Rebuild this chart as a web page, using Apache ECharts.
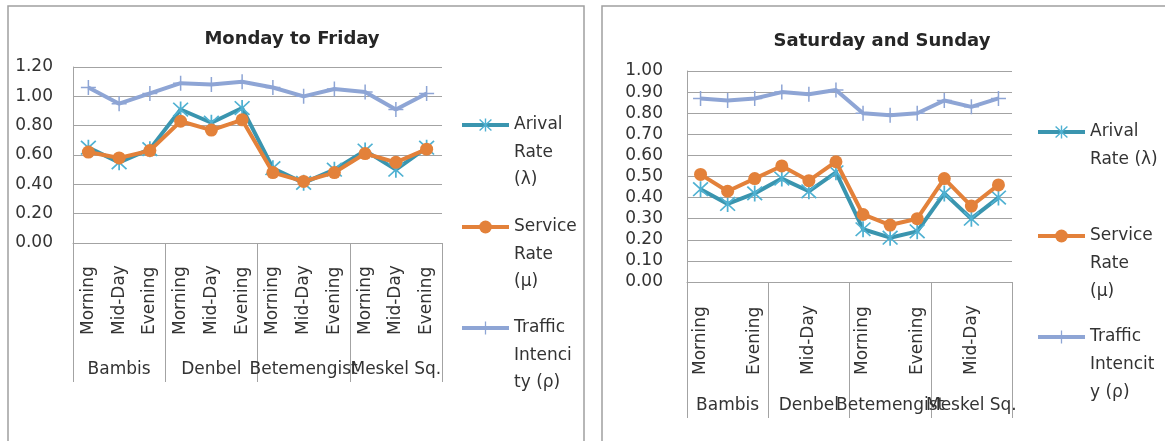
<!DOCTYPE html>
<html>
<head>
<meta charset="utf-8">
<script src="https://cdn.jsdelivr.net/npm/echarts@6/dist/echarts.min.js"></script>
<style>
  html, body { margin: 0; padding: 0; background: #fff; }
  #chart { width: 1165px; height: 441px; }
</style>
</head>
<body>
<div id="chart"></div>
<script>
// Junctions and time-of-day periods
const sites = ['Bambis', 'Denbel', 'Betemengist', 'Meskel Sq.'];
const periods = ['Morning', 'Mid-Day', 'Evening', 'Morning', 'Mid-Day', 'Evening',
                 'Morning', 'Mid-Day', 'Evening', 'Morning', 'Mid-Day', 'Evening'];

// Monday to Friday
const arrivalWeekday = [0.65, 0.55, 0.64, 0.91, 0.82, 0.92, 0.51, 0.41, 0.50, 0.63, 0.50, 0.65];
const serviceWeekday = [0.62, 0.58, 0.63, 0.83, 0.77, 0.84, 0.48, 0.42, 0.48, 0.61, 0.55, 0.64];
const trafficWeekday = [1.06, 0.95, 1.02, 1.09, 1.08, 1.10, 1.06, 1.00, 1.05, 1.03, 0.91, 1.02];

// Saturday and Sunday
const arrivalWeekend = [0.44, 0.37, 0.42, 0.49, 0.43, 0.52, 0.25, 0.21, 0.24, 0.42, 0.30, 0.40];
const serviceWeekend = [0.51, 0.43, 0.49, 0.55, 0.48, 0.57, 0.32, 0.27, 0.30, 0.49, 0.36, 0.46];
const trafficWeekend = [0.87, 0.86, 0.87, 0.90, 0.89, 0.91, 0.80, 0.79, 0.80, 0.86, 0.83, 0.87];

const seriesNames = ['Arival Rate (λ)', 'Service Rate (μ)', 'Traffic Intencity (ρ)'];
const legendWeekday = ['Arival\nRate\n(λ)', 'Service\nRate\n(μ)', 'Traffic\nIntenci\nty (ρ)'];
const legendWeekend = ['Arival\nRate (λ)', 'Service\nRate\n(μ)', 'Traffic\nIntencit\ny (ρ)'];

const FONT = 'DejaVu Sans';
const TEXT = '#333333';
const RULE = '#a3a3a3';

// Excel-like marker shapes
const STAR = 'path://M9,0L11,0L11,20L9,20Z M2.2,0.8L19.2,17.8L17.8,19.2L0.8,2.2Z M17.8,0.8L19.2,2.2L2.2,19.2L0.8,17.8Z';
const PLUS = 'path://M9,0L11,0L11,9L20,9L20,11L11,11L11,20L9,20L9,11L0,11L0,9L9,9Z';

const styles = [
  { line: '#3A95AF', mark: '#4FB1D2', symbol: STAR, size: 16 },
  { line: '#E3813A', mark: '#E3813A', symbol: 'circle', size: 13 },
  { line: '#8EA5D5', mark: '#8EA5D5', symbol: PLUS, size: 15 }
];

function panel(i, cfg) {
  const g = cfg.grid;
  const grid = { left: g.left, top: g.top, width: g.width, height: g.height, containLabel: false };
  const xAxes = [
    {
      type: 'category', gridIndex: i, data: periods, position: 'bottom',
      axisLine: { show: true, lineStyle: { color: RULE, width: 1 } },
      axisTick: { show: false },
      axisLabel: {
        interval: cfg.labelInterval, rotate: 90, margin: 8,
        formatter: v => '{s|' + v + '}',
        rich: { s: { width: cfg.labelBox, align: 'left', fontSize: 17, fontFamily: FONT, color: TEXT } }
      }
    },
    {
      type: 'category', gridIndex: i, data: sites, position: 'bottom',
      axisLine: { show: false },
      axisTick: { show: true, interval: 0, length: cfg.dividerLength, lineStyle: { color: RULE, width: 1 } },
      axisLabel: { interval: 0, margin: cfg.siteMargin, fontSize: 17, fontFamily: FONT, color: TEXT }
    }
  ];
  const yAxis = {
    type: 'value', gridIndex: i, min: 0, max: cfg.max, interval: cfg.interval,
    axisLine: { show: true, lineStyle: { color: RULE, width: 1 } },
    axisTick: { show: false },
    splitLine: { lineStyle: { color: RULE, width: 1 } },
    axisLabel: { formatter: v => v.toFixed(2), margin: cfg.yMargin, fontSize: 17, fontFamily: FONT, color: TEXT }
  };
  const series = cfg.values.map((vals, k) => ({
    name: seriesNames[k], type: 'line', xAxisIndex: 2 * i, yAxisIndex: i,
    data: vals, symbol: styles[k].symbol, symbolSize: styles[k].size, showAllSymbol: true,
    lineStyle: { color: styles[k].line, width: 4 },
    itemStyle: { color: styles[k].mark, borderWidth: 0 },
    z: 2 + k
  }));
  // Each legend entry is its own component so the swatch sits beside the first text line:
  // the label is centred on the swatch, so it is led by (lines - 1) empty lines.
  const legends = cfg.legendText.map((txt, k) => {
    const lines = txt.split('\n').length;
    const lead = '\n'.repeat(lines - 1);
    const h = (2 * lines - 1) * cfg.lineHeight;
    return {
      data: [seriesNames[k]], orient: 'vertical', padding: 0,
      left: cfg.legendLeft, top: cfg.legendY[k] - h / 2,
      itemWidth: 47, itemHeight: 16,
      lineStyle: { width: 4, color: styles[k].line },
      itemStyle: { color: styles[k].mark },
      formatter: () => lead + txt,
      textStyle: { fontSize: 17, fontFamily: FONT, color: TEXT, lineHeight: cfg.lineHeight }
    };
  });
  const title = {
    text: cfg.title, left: cfg.titleX, top: cfg.titleY, textAlign: 'center',
    textStyle: { fontSize: 18, fontWeight: 'bold', fontFamily: FONT, color: '#262626' }
  };
  return { grid, xAxes, yAxis, series, legends, title };
}

const left = panel(0, {
  grid: { left: 73, top: 67, width: 369, height: 176 },
  max: 1.2, interval: 0.2, yMargin: 20,
  labelInterval: 0, labelBox: 84, siteMargin: 118, dividerLength: 139,
  values: [arrivalWeekday, serviceWeekday, trafficWeekday],
  legendText: legendWeekday, legendLeft: 460, legendY: [125, 227, 328], lineHeight: 27.5,
  title: 'Monday to Friday', titleX: 287, titleY: 25
});

const right = panel(1, {
  grid: { left: 687, top: 71, width: 325, height: 211 },
  max: 1.0, interval: 0.1, yMargin: 24,
  labelInterval: 1, labelBox: 85, siteMargin: 115, dividerLength: 136,
  values: [arrivalWeekend, serviceWeekend, trafficWeekend],
  legendText: legendWeekend, legendLeft: 1036, legendY: [132, 236, 337], lineHeight: 28,
  title: 'Saturday and Sunday', titleX: 877, titleY: 27
});

const chart = echarts.init(document.getElementById('chart'), null, { renderer: 'canvas' });
chart.setOption({
  animation: false,
  backgroundColor: '#ffffff',
  title: [left.title, right.title],
  grid: [left.grid, right.grid],
  xAxis: left.xAxes.concat(right.xAxes),
  yAxis: [left.yAxis, right.yAxis],
  legend: left.legends.concat(right.legends),
  series: left.series.concat(right.series),
  graphic: [
    { type: 'rect', shape: { x: 8, y: 6, width: 576, height: 500 }, style: { fill: 'none', stroke: '#a0a0a0', lineWidth: 1.5 }, silent: true },
    { type: 'rect', shape: { x: 602, y: 6, width: 600, height: 500 }, style: { fill: 'none', stroke: '#a0a0a0', lineWidth: 1.5 }, silent: true }
  ]
});
</script>
</body>
</html>
